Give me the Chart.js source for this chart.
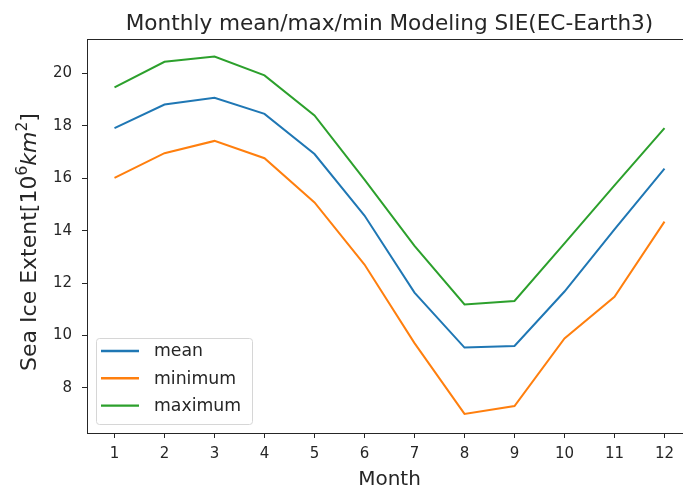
<!DOCTYPE html>
<html>
<head>
<meta charset="utf-8">
<script src="https://cdn.jsdelivr.net/npm/chart.js@4.4.1/dist/chart.umd.min.js"></script>
<style>
  html, body { margin: 0; padding: 0; background: #fff; overflow: hidden; }
  #wrap { width: 700px; height: 492px; }
</style>
</head>
<body>
<div id="wrap"><canvas id="sie"></canvas></div>
<script>
// monthly sea ice extent, 10^6 km^2
const months = [1, 2, 3, 4, 5, 6, 7, 8, 9, 10, 11, 12];
const meanSIE = [17.92, 18.82, 19.08, 18.46, 16.93, 14.58, 11.64, 9.54, 9.60, 11.68, 14.05, 16.37];
const minSIE = [16.02, 16.96, 17.43, 16.77, 15.08, 12.71, 9.71, 7.01, 7.31, 9.89, 11.48, 14.35];
const maxSIE = [19.47, 20.45, 20.65, 19.93, 18.40, 15.95, 13.42, 11.19, 11.32, 13.52, 15.73, 17.92];
const yTicks = [8, 10, 12, 14, 16, 18, 20];

const TITLE = 'Monthly mean/max/min Modeling SIE(EC-Earth3)';
const FONT = "'DejaVu Sans', sans-serif";
const INK = '#262626';

const toPoints = vals => vals.map((v, i) => ({ x: months[i], y: v }));

// y label written like mathtext: Sea Ice Extent[10^6 km^2]
const yLabelParts = [
  { t: 'Sea Ice Extent', size: 22 },
  { t: '[10', size: 22 },
  { t: '6', size: 15.5, rise: 9 },
  { t: 'km', size: 22, italic: true },
  { t: '2', size: 15.5, rise: 9 },
  { t: ']', size: 22 }
];

const decor = {
  id: 'decor',
  afterDatasetsDraw(chart) {
    const { ctx, chartArea: a } = chart;
    ctx.save();

    // axes frame
    ctx.strokeStyle = INK;
    ctx.lineWidth = 1;
    ctx.strokeRect(a.left + 0.5, a.top + 0.5, a.right - a.left, a.bottom - a.top);

    // title centred over the axes
    ctx.fillStyle = INK;
    ctx.font = '21.6px ' + FONT;
    ctx.textAlign = 'center';
    ctx.textBaseline = 'alphabetic';
    ctx.fillText(TITLE, (a.left + a.right) / 2, 29.5);

    // rotated y label
    ctx.textAlign = 'left';
    const fontOf = p => (p.italic ? 'italic ' : '') + p.size + 'px ' + FONT;
    let total = 0;
    yLabelParts.forEach(p => { ctx.font = fontOf(p); total += ctx.measureText(p.t).width; });
    ctx.translate(36, (a.top + a.bottom) / 2 + 6);
    ctx.rotate(-Math.PI / 2);
    let x = -total / 2;
    yLabelParts.forEach(p => {
      ctx.font = fontOf(p);
      ctx.fillText(p.t, x, -(p.rise || 0));
      x += ctx.measureText(p.t).width;
    });
    ctx.restore();

    // legend, lower left inside the axes
    ctx.save();
    const bx = a.left + 9, by = 338, bw = 156, bh = 86;
    ctx.fillStyle = 'rgba(255,255,255,0.8)';
    ctx.strokeStyle = '#d6d6d6';
    ctx.lineWidth = 1;
    ctx.beginPath();
    ctx.roundRect(bx + 0.5, by + 0.5, bw, bh, 3);
    ctx.fill();
    ctx.stroke();

    ctx.font = '17.3px ' + FONT;
    ctx.textBaseline = 'middle';
    chart.data.datasets.forEach((ds, i) => {
      const y = by + 13 + i * 27.3;
      ctx.strokeStyle = ds.borderColor;
      ctx.lineWidth = 2.4;
      ctx.beginPath();
      ctx.moveTo(bx + 5, y);
      ctx.lineTo(bx + 43, y);
      ctx.stroke();
      ctx.fillStyle = INK;
      ctx.fillText(ds.label, bx + 58, y + 1);
    });
    ctx.restore();
  }
};

new Chart(document.getElementById('sie'), {
  type: 'line',
  data: {
    datasets: [
      { label: 'mean', data: toPoints(meanSIE), borderColor: '#1f77b4' },
      { label: 'minimum', data: toPoints(minSIE), borderColor: '#ff7f0e' },
      { label: 'maximum', data: toPoints(maxSIE), borderColor: '#2ca02c' }
    ]
  },
  options: {
    responsive: true,
    maintainAspectRatio: false,
    animation: false,
    layout: { padding: { top: 39, right: 8 } },
    elements: {
      line: { borderWidth: 2, tension: 0, fill: false },
      point: { radius: 0, hoverRadius: 0 }
    },
    plugins: {
      legend: { display: false },
      tooltip: { enabled: false },
      title: { display: false }
    },
    scales: {
      x: {
        type: 'linear',
        min: 0.45,
        max: 12.55,
        afterBuildTicks: s => { s.ticks = months.map(v => ({ value: v })); },
        afterFit: s => { s.height = 59; },
        grid: { drawOnChartArea: false, drawTicks: true, tickLength: 5, color: INK },
        border: { display: false },
        ticks: { color: INK, padding: 7, maxRotation: 0, font: { family: FONT, size: 15 } },
        title: {
          display: true,
          text: 'Month',
          color: INK,
          font: { family: FONT, size: 20 },
          padding: { top: 0, bottom: 0 }
        }
      },
      y: {
        min: 6.28,
        max: 21.32,
        afterBuildTicks: s => { s.ticks = yTicks.map(v => ({ value: v })); },
        afterFit: s => { s.width = 87; },
        grid: { drawOnChartArea: false, drawTicks: true, tickLength: 5, color: INK },
        border: { display: false },
        ticks: { color: INK, padding: 10, font: { family: FONT, size: 15 } }
      }
    }
  },
  plugins: [decor]
});
</script>
</body>
</html>
